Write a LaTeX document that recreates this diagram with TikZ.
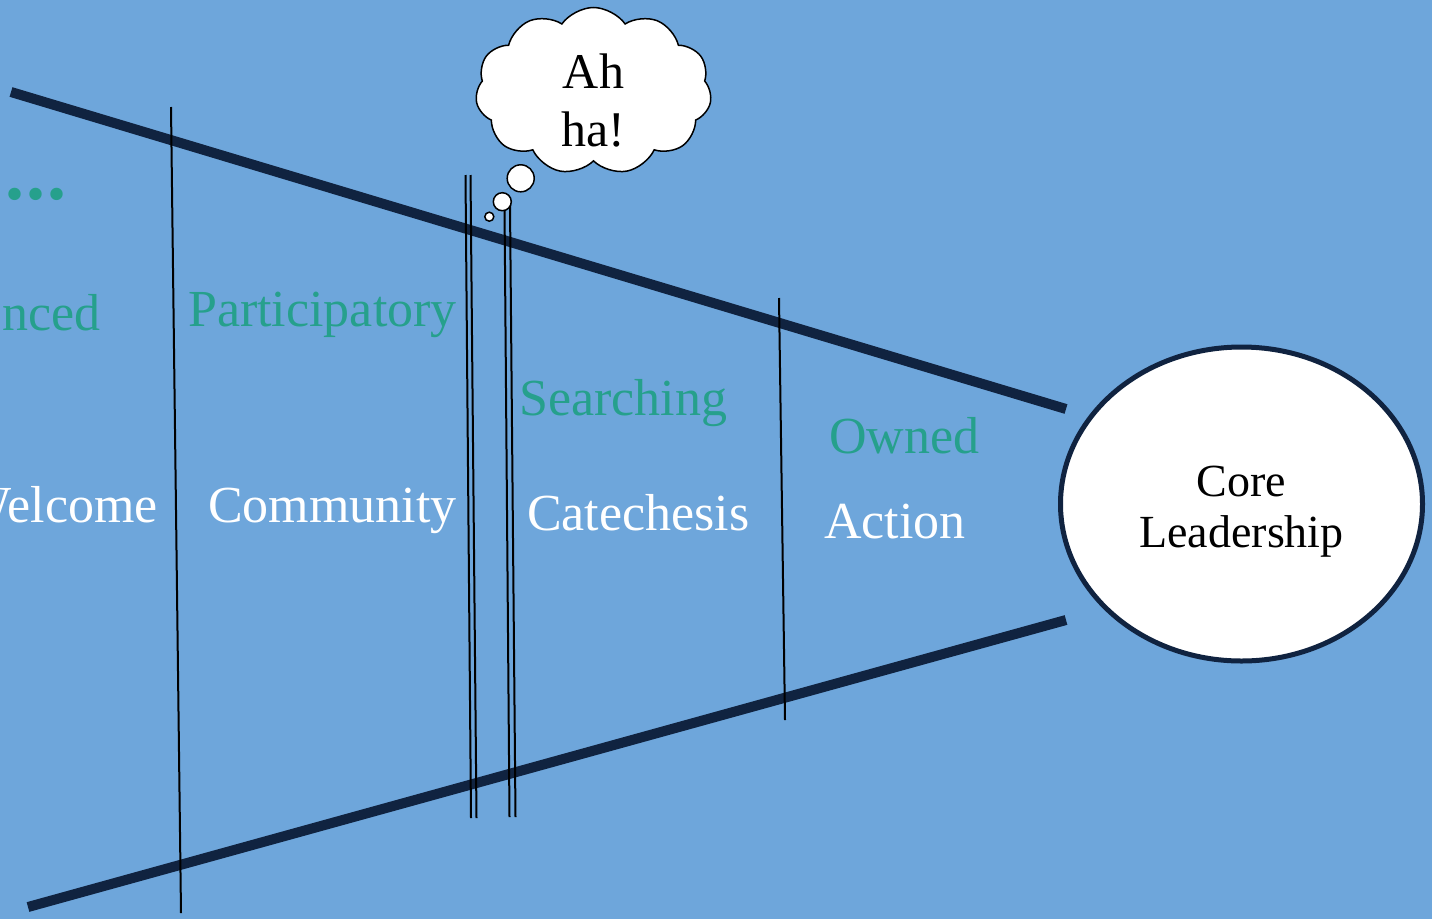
\documentclass[tikz,border=0pt]{standalone}
\usepackage{fontspec}
\setmainfont{Liberation Serif}
\usetikzlibrary{shapes.geometric,shapes.symbols}
\definecolor{bgblue}{RGB}{110,166,219}
\definecolor{railnavy}{RGB}{16,35,64}
\definecolor{stagegreen}{RGB}{38,160,140}

\begin{document}
\begin{tikzpicture}[x=1pt,y=-1pt]
				\tikzstyle{stage}=[anchor=base west,inner sep=0pt,text=white,font=\fontsize{52}{60}\selectfont]
				\tikzstyle{mood}=[stage,text=stagegreen]
				\tikzstyle{rail}=[line width=10pt,railnavy]
				\tikzstyle{gate}=[line width=2pt,black]
				\tikzstyle{puff}=[draw,fill=white,line width=1.5pt,circle,inner sep=0pt]
				\fill[bgblue] (0,0) rectangle (1432,919);
				\useasboundingbox (0,0) rectangle (1432,919);
				\draw[rail] (11,92) -- (1066,409);
				\draw[rail] (28,907) -- (1066,620);
				\draw[gate] (171,107) -- (181,913);
				\draw[gate] (465.5,175) -- (471,818);
				\draw[gate] (470.5,175) -- (476.5,818);
				\draw[gate] (504.5,205) -- (509.5,817);
				\draw[gate] (510,205) -- (515.5,817);
				\draw[gate] (779,298) -- (785,720);
				\node[mood,anchor=base west,font=\bfseries\fontsize{76}{80}\selectfont] (dots) at (5.5,199) {.\kern2pt.\kern2pt.};
				\node[mood,anchor=base east] (nced) at (101,330) {nced};
				\node[mood] (participatory) at (188,326) {Participatory};
				\node[mood] (searching) at (519,415) {Searching};
				\node[mood] (owned) at (829,453) {Owned};
				\node[stage,anchor=base east] (welcome) at (158,522) {Welcome};
				\node[stage] (community) at (208,522) {Community};
				\node[stage] (catechesis) at (527,530) {Catechesis};
				\node[stage] (action) at (824,538) {Action};
				\node[ellipse,draw=railnavy,line width=5pt,fill=white,minimum width=362pt,minimum height=314pt] (core) at (1241.5,504) {};
				\node[align=center,inner sep=0pt,font=\fontsize{46}{51}\selectfont] (corelabel) at ([yshift=-8pt]core.center) {Core\\Leadership};
				\node[puff,minimum size=9pt] (puffa) at (489.3,216.7) {};
				\node[puff,minimum size=18pt] (puffb) at (502.3,201.7) {};
				\node[puff,minimum size=27pt] (puffc) at (520.7,178.3) {};
				\node[cloud,draw,fill=white,line width=1.5pt,cloud puffs=11,cloud puff arc=110,aspect=1.4,inner sep=0pt,minimum width=236pt,minimum height=167pt] (cloud) at (593.5,91) {};
				\node[align=center,inner sep=0pt,font=\fontsize{50}{58}\selectfont] (aha) at ([yshift=-10pt]cloud.center) {Ah\\ha!};
\end{tikzpicture}
\end{document}
